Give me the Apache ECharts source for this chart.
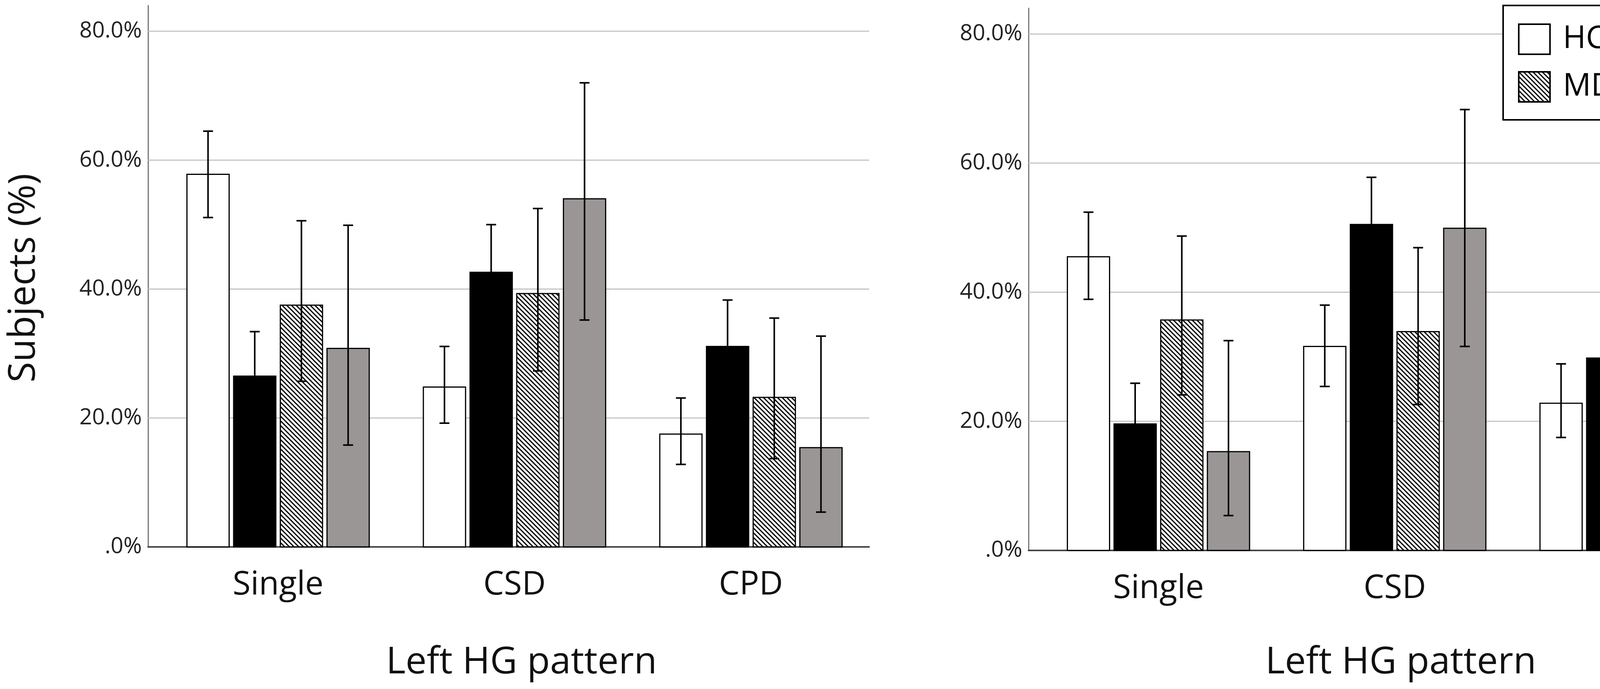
<!DOCTYPE html>
<html>
<head>
<meta charset="utf-8">
<script src="https://cdn.jsdelivr.net/npm/echarts@6/dist/echarts.min.js"></script>
<style>
html, body { margin: 0; background: #fff; }
#chart { width: 4550px; height: 1765px; }
</style>
</head>
<body>
<div id="chart"></div>
<script>
var categories = ['Single', 'CSD', 'CPD'];
var groups = ['HC', 'Sz', 'MDD', 'BD'];
var yTicks = [20, 40, 60, 80];

// rows follow groups (HC, Sz, MDD, BD), columns follow categories
var leftMean = [[57.8, 24.8, 17.5], [26.5, 42.6, 31.1], [37.5, 39.3, 23.2], [30.8, 54.0, 15.4]];
var leftLow = [[51.1, 19.2, 12.8], [19.6, 35.2, 23.9], [25.7, 27.3, 13.7], [15.8, 35.2, 5.4]];
var leftHigh = [[64.5, 31.1, 23.1], [33.4, 50.0, 38.3], [50.6, 52.5, 35.5], [49.9, 72.0, 32.7]];

var rightMean = [[45.5, 31.6, 22.8], [19.6, 50.5, 29.8], [35.7, 33.9, 30.4], [15.3, 49.9, 34.6]];
var rightLow = [[38.9, 25.4, 17.5], [13.3, 43.1, 22.7], [24.1, 22.6, 19.5], [5.4, 31.6, 18.7]];
var rightHigh = [[52.4, 38.0, 28.9], [25.9, 57.8, 36.9], [48.7, 46.9, 43.1], [32.5, 68.3, 53.6]];

var X_MIN = -0.55, X_MAX = 2.5;
var BAR_W = 0.1785, BAR_STEP = 0.1975, CAP_W = 0.042;
var FONT = '"Open Sans", "DejaVu Sans", sans-serif';

function hatch() {
    var s = 12;
    var c = document.createElement('canvas');
    c.width = s; c.height = s;
    var g = c.getContext('2d');
    g.fillStyle = '#fff';
    g.fillRect(0, 0, s, s);
    g.strokeStyle = '#000';
    g.lineWidth = 3.2;
    for (var k = -1; k <= 1; k++) {
        g.beginPath();
        g.moveTo(-2, -2 + k * s);
        g.lineTo(s + 2, s + 2 + k * s);
        g.stroke();
    }
    return c;
}

var fills = ['#ffffff', '#000000', { image: hatch(), repeat: 'repeat' }, '#9b9696'];

function barSeries(panel, gi) {
    var mean = panel ? rightMean : leftMean;
    var low = panel ? rightLow : leftLow;
    var high = panel ? rightHigh : leftHigh;
    var data = categories.map(function (c, i) {
        return [i, mean[gi][i], low[gi][i], high[gi][i]];
    });
    return {
        type: 'custom',
        name: groups[gi],
        xAxisIndex: panel,
        yAxisIndex: panel,
        z: 3,
        itemStyle: { color: fills[gi], borderColor: '#000', borderWidth: 3 },
        encode: { x: 0, y: 1 },
        data: data,
        renderItem: function (params, api) {
            var x = api.value(0) + (gi - 1.5) * BAR_STEP;
            var top = api.coord([x, api.value(1)]);
            var base = api.coord([x, 0]);
            var lo = api.coord([x, api.value(2)]);
            var hi = api.coord([x, api.value(3)]);
            var l = api.coord([x - BAR_W / 2, 0])[0];
            var r = api.coord([x + BAR_W / 2, 0])[0];
            var cl = api.coord([x - CAP_W / 2, 0])[0];
            var cr = api.coord([x + CAP_W / 2, 0])[0];
            var err = { stroke: '#000', lineWidth: 4 };
            return {
                type: 'group',
                children: [
                    { type: 'rect', shape: { x: l, y: top[1], width: r - l, height: base[1] - top[1] },
                      style: { fill: fills[gi], stroke: '#000', lineWidth: 3 } },
                    { type: 'line', shape: { x1: top[0], y1: hi[1], x2: top[0], y2: lo[1] }, style: err },
                    { type: 'line', shape: { x1: cl, y1: hi[1], x2: cr, y2: hi[1] }, style: err },
                    { type: 'line', shape: { x1: cl, y1: lo[1], x2: cr, y2: lo[1] }, style: err }
                ]
            };
        }
    };
}

function gridSeries(panel) {
    return {
        type: 'custom',
        xAxisIndex: panel,
        yAxisIndex: panel,
        z: 1,
        silent: true,
        encode: { y: 0 },
        data: yTicks.map(function (v) { return [v]; }),
        renderItem: function (params, api) {
            var a = api.coord([X_MIN, api.value(0)]);
            var b = api.coord([X_MAX, api.value(0)]);
            return { type: 'line', shape: { x1: a[0], y1: a[1], x2: b[0], y2: b[1] },
                     style: { stroke: '#c4c4c4', lineWidth: 3 } };
        }
    };
}

function xAxis(i) {
    return {
        gridIndex: i, type: 'value', min: X_MIN, max: X_MAX,
        axisLine: { onZero: false, lineStyle: { color: '#444', width: 4 } },
        axisTick: { show: false },
        splitLine: { show: false },
        axisLabel: {
            fontSize: 84, fontFamily: FONT, color: '#111', margin: 56,
            formatter: function (v) {
                var k = Math.round(v);
                return (Math.abs(v - k) < 1e-6 && k >= 0 && k < categories.length) ? categories[k] : '';
            }
        }
    };
}

function yAxis(i) {
    return {
        gridIndex: i, type: 'value', min: 0, max: 84, interval: 20,
        axisLine: { show: true, onZero: false, lineStyle: { color: '#777', width: 3 } },
        axisTick: { show: false },
        splitLine: { show: false },
        axisLabel: {
            fontSize: 57, fontFamily: FONT, color: '#222', margin: 16, padding: [14, 0, 0, 0],
            showMaxLabel: false,
            formatter: function (v) {
                if (v % 20 !== 0) return '';
                return v === 0 ? '.0%' : v.toFixed(1) + '%';
            }
        }
    };
}

function legendRow(names, top) {
    return {
        data: names, left: 3886, top: top, orient: 'horizontal', padding: 0,
        icon: 'rect', itemWidth: 80, itemHeight: 77, itemGap: 49, z: 20,
        selectedMode: false,
        itemStyle: { borderColor: '#000', borderWidth: 4 },
        textStyle: { fontSize: 80, fontFamily: FONT, color: '#000', width: 200, padding: [0, 0, 0, 28] }
    };
}

var series = [gridSeries(0), gridSeries(1)];
for (var p = 0; p < 2; p++) {
    for (var g = 0; g < groups.length; g++) series.push(barSeries(p, g));
}

var option = {
    animation: false,
    backgroundColor: '#fff',
    textStyle: { fontFamily: FONT },
    grid: [
        { left: 379, top: 14, width: 1846, height: 1387 },
        { left: 2633, top: 21, width: 1845, height: 1389 }
    ],
    xAxis: [xAxis(0), xAxis(1)],
    yAxis: [yAxis(0), yAxis(1)],
    legend: [legendRow(['HC', 'Sz'], 60), legendRow(['MDD', 'BD'], 182)],
    graphic: [
        { type: 'rect', z: 10, shape: { x: 3848, y: 14, width: 667, height: 293 },
          style: { fill: '#fff', stroke: '#000', lineWidth: 4 } },
        { type: 'text', x: 62, y: 712, rotation: Math.PI / 2, z: 10,
          style: { text: 'Subjects (%)', fontSize: 96, fontFamily: FONT, fill: '#111', align: 'center', verticalAlign: 'middle' } },
        { type: 'text', x: 1335, y: 1698, z: 10,
          style: { text: 'Left HG pattern', fontSize: 96, fontFamily: FONT, fill: '#111', align: 'center', verticalAlign: 'middle' } },
        { type: 'text', x: 3586, y: 1698, z: 10,
          style: { text: 'Left HG pattern', fontSize: 96, fontFamily: FONT, fill: '#111', align: 'center', verticalAlign: 'middle' } }
    ],
    series: series
};

var chart = echarts.init(document.getElementById('chart'));
chart.setOption(option);
</script>
</body>
</html>
